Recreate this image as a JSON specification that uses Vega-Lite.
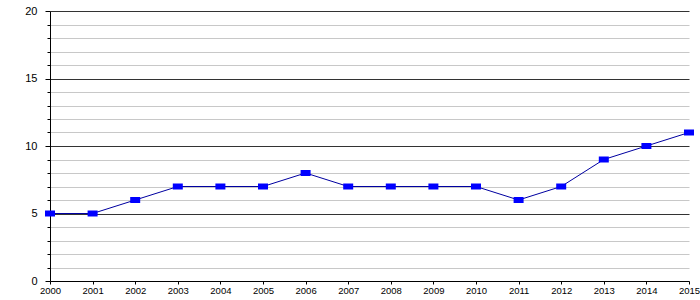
{
  "$schema": "https://vega.github.io/schema/vega-lite/v6.json",
  "width": 639,
  "height": 270,
  "autosize": {"type": "none"},
  "padding": {"left": 50, "top": 11, "right": 11, "bottom": 19},
  "background": "#ffffff",
  "config": {"view": {"stroke": null}, "font": "Liberation Sans"},
  "data": {"values": [
    {"year": 2000, "value": 5},
    {"year": 2001, "value": 5},
    {"year": 2002, "value": 6},
    {"year": 2003, "value": 7},
    {"year": 2004, "value": 7},
    {"year": 2005, "value": 7},
    {"year": 2006, "value": 8},
    {"year": 2007, "value": 7},
    {"year": 2008, "value": 7},
    {"year": 2009, "value": 7},
    {"year": 2010, "value": 7},
    {"year": 2011, "value": 6},
    {"year": 2012, "value": 7},
    {"year": 2013, "value": 9},
    {"year": 2014, "value": 10},
    {"year": 2015, "value": 11}
  ]},
  "encoding": {
    "x": {"field": "year", "type": "quantitative",
      "scale": {"domain": [2000, 2015], "nice": false, "zero": false},
      "axis": {"title": null, "values": [2000,2001,2002,2003,2004,2005,2006,2007,2008,2009,2010,2011,2012,2013,2014,2015],
        "format": "d", "grid": false, "domainColor": "#000000", "tickColor": "#000000", "tickSize": 3,
        "labelFontSize": 9.5, "labelColor": "#000000", "labelPadding": 1, "labelFlush": false, "labelOverlap": false}},
    "y": {"field": "value", "type": "quantitative",
      "scale": {"domain": [0, 20], "nice": false},
      "axis": {"title": null, "values": [0,1,2,3,4,5,6,7,8,9,10,11,12,13,14,15,16,17,18,19,20],
        "labelExpr": "datum.value % 5 === 0 ? datum.label : ''",
        "grid": true,
        "gridColor": {"condition": {"test": "datum.value % 5 === 0 && datum.value > 0", "value": "#333333"}, "value": "#c8c8c8"},
        "gridOpacity": 1,
        "domainColor": "#000000", "tickColor": "#000000",
        "tickSize": {"condition": {"test": "datum.value % 5 === 0", "value": 5}, "value": 3},
        "labelFontSize": 11, "labelColor": "#000000", "labelPadding": 8, "labelFlush": false, "labelOverlap": false}}
  },
  "layer": [
    {"mark": {"type": "line", "color": "#0000a0", "strokeWidth": 1}},
    {"mark": {"type": "point", "filled": true, "color": "#0000ff", "opacity": 1,
      "shape": "M-1,-0.6L1,-0.6L1,0.6L-1,0.6Z", "size": 100}}
  ]
}
